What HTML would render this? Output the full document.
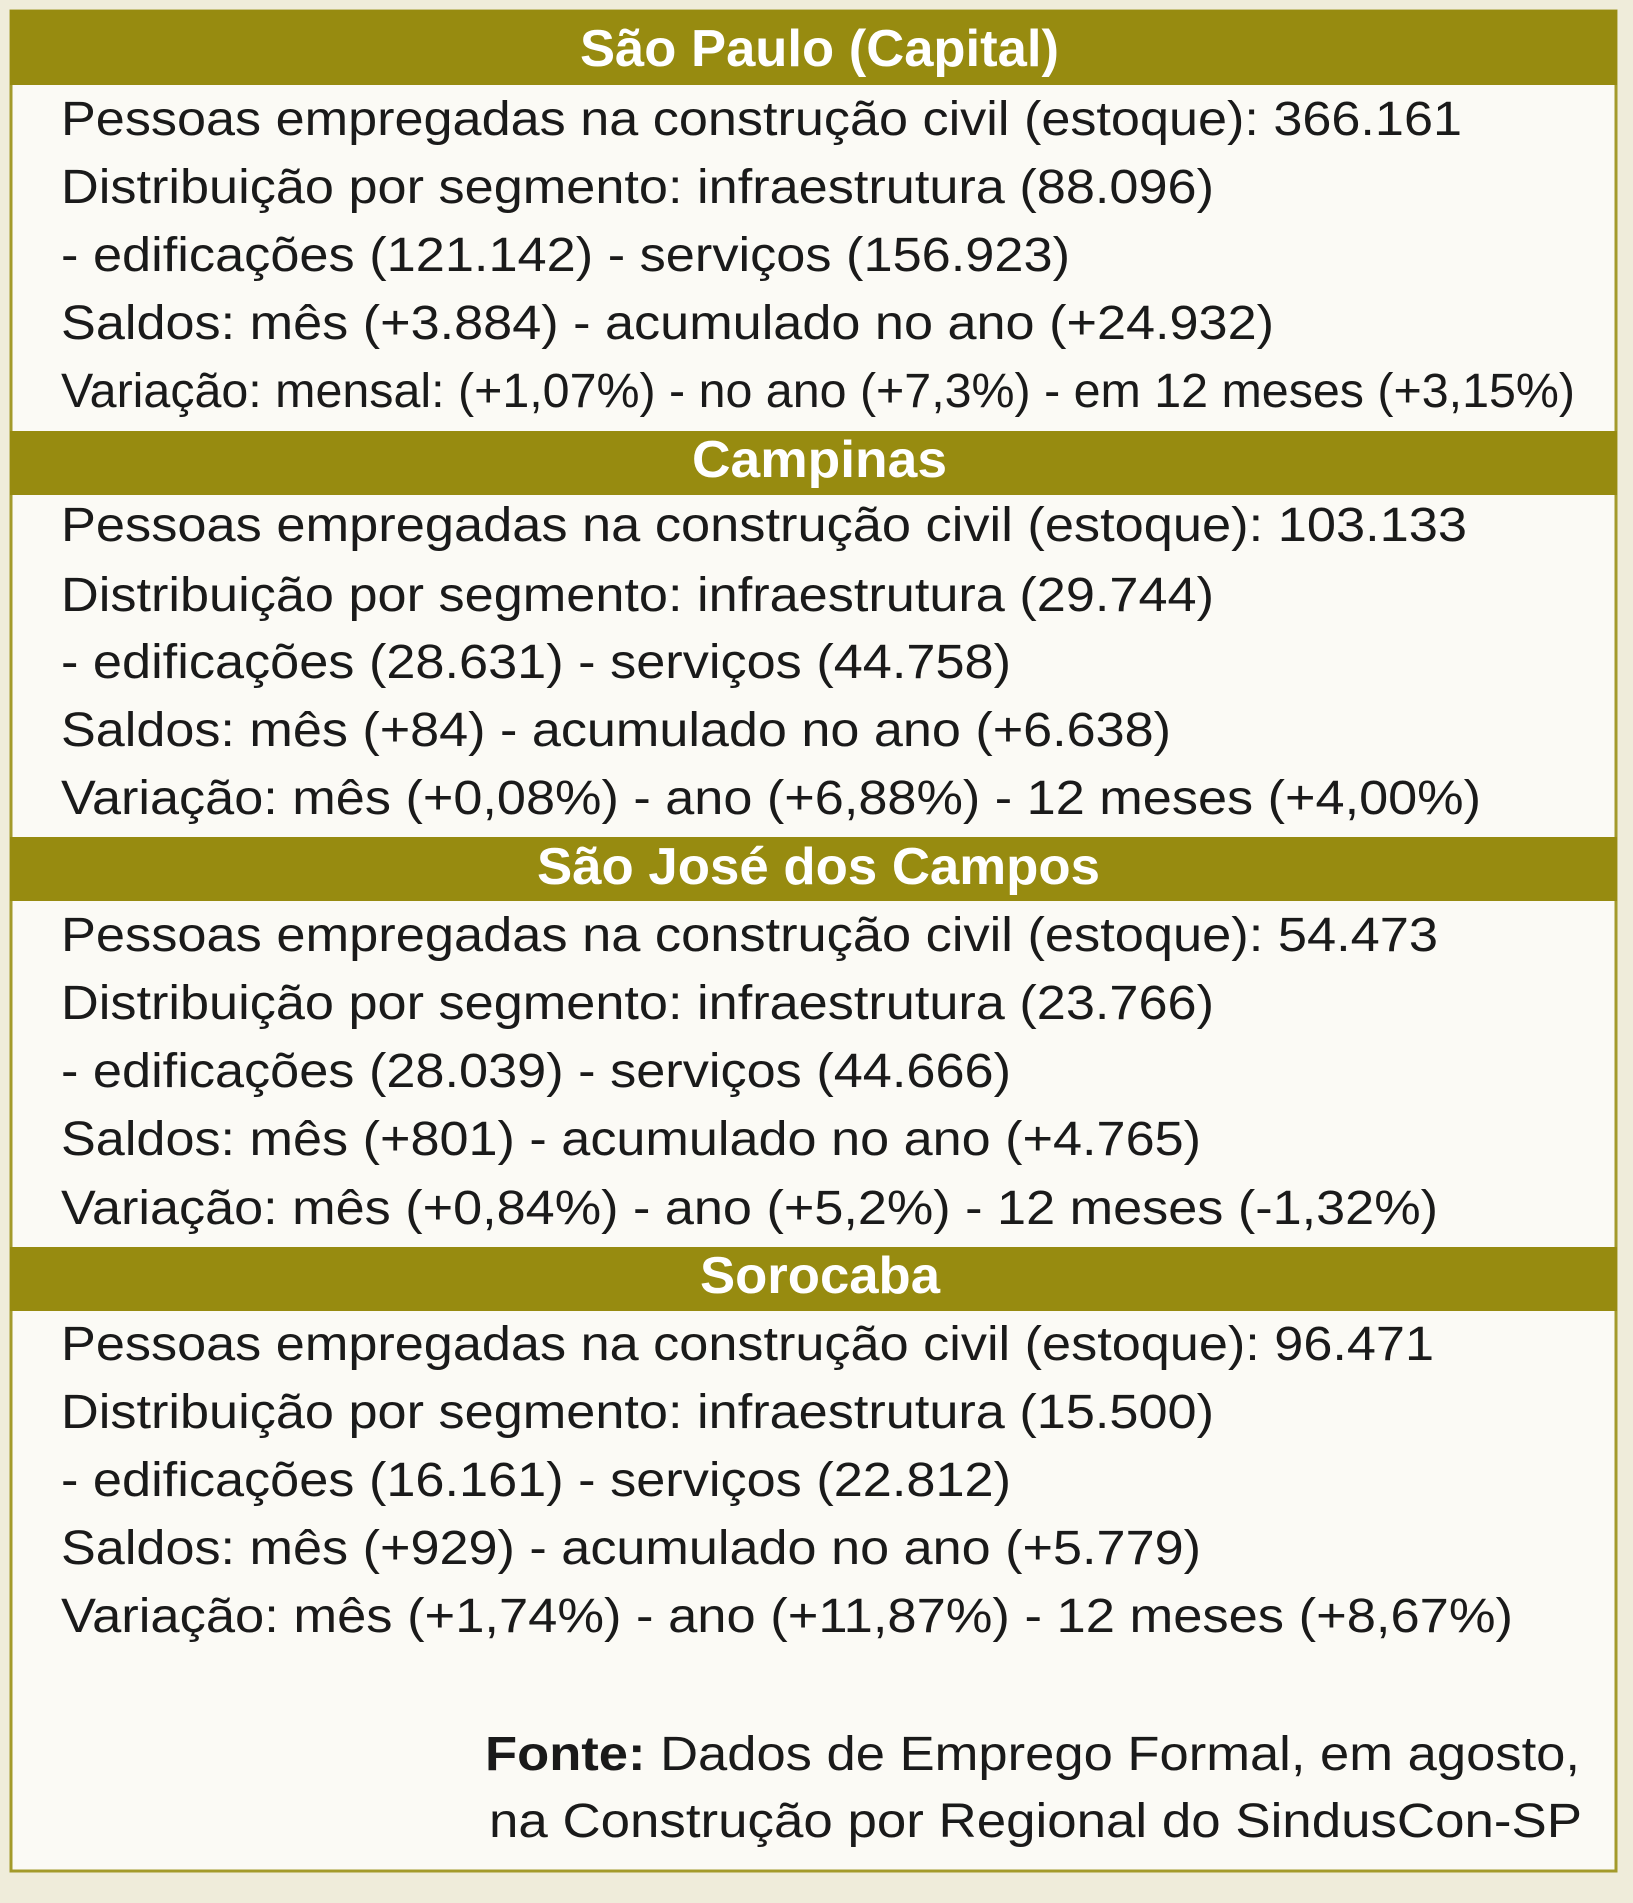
<!DOCTYPE html>
<html><head><meta charset="utf-8"><style>
html,body{margin:0;padding:0;background:#efecda;}
svg{display:block}
text{font-family:"Liberation Sans",Arial,sans-serif;}
.t{font-size:48px;fill:#1a1a1a;}
.h{font-size:52px;font-weight:bold;fill:#fff;}
</style></head><body>
<svg width="1633" height="1903" xmlns="http://www.w3.org/2000/svg">
<rect x="0" y="0" width="1633" height="1903" fill="#efecda"/>
<rect x="11" y="11" width="1605" height="1860" fill="#fbfaf5" stroke="#a39a2a" stroke-width="3"/>
<rect x="10" y="10" width="1607" height="75" fill="#978b10"/>
<rect x="10" y="431" width="1607" height="64" fill="#978b10"/>
<rect x="10" y="837" width="1607" height="64" fill="#978b10"/>
<rect x="10" y="1247" width="1607" height="64" fill="#978b10"/>
<text class="h" x="580" y="66" textLength="479" lengthAdjust="spacingAndGlyphs">São Paulo (Capital)</text>
<text class="h" x="692" y="477" textLength="255" lengthAdjust="spacingAndGlyphs">Campinas</text>
<text class="h" x="537" y="884" textLength="563" lengthAdjust="spacingAndGlyphs">São José dos Campos</text>
<text class="h" x="700" y="1293" textLength="240" lengthAdjust="spacingAndGlyphs">Sorocaba</text>

<text class="t" x="61" y="135" textLength="1401" lengthAdjust="spacingAndGlyphs">Pessoas empregadas na construção civil (estoque): 366.161</text>
<text class="t" x="61" y="203" textLength="1153" lengthAdjust="spacingAndGlyphs">Distribuição por segmento: infraestrutura (88.096)</text>
<text class="t" x="61" y="271" textLength="1009" lengthAdjust="spacingAndGlyphs">- edificações (121.142) - serviços (156.923)</text>
<text class="t" x="61" y="339" textLength="1213" lengthAdjust="spacingAndGlyphs">Saldos: mês (+3.884) - acumulado no ano (+24.932)</text>
<text class="t" x="61" y="407" textLength="1514" lengthAdjust="spacingAndGlyphs">Variação: mensal: (+1,07%) - no ano (+7,3%) - em 12 meses (+3,15%)</text>

<text class="t" x="61" y="541" textLength="1406" lengthAdjust="spacingAndGlyphs">Pessoas empregadas na construção civil (estoque): 103.133</text>
<text class="t" x="61" y="611" textLength="1153" lengthAdjust="spacingAndGlyphs">Distribuição por segmento: infraestrutura (29.744)</text>
<text class="t" x="61" y="678" textLength="950" lengthAdjust="spacingAndGlyphs">- edificações (28.631) - serviços (44.758)</text>
<text class="t" x="61" y="746" textLength="1110" lengthAdjust="spacingAndGlyphs">Saldos: mês (+84) - acumulado no ano (+6.638)</text>
<text class="t" x="61" y="814" textLength="1420" lengthAdjust="spacingAndGlyphs">Variação: mês (+0,08%) - ano (+6,88%) - 12 meses (+4,00%)</text>

<text class="t" x="61" y="951" textLength="1377" lengthAdjust="spacingAndGlyphs">Pessoas empregadas na construção civil (estoque): 54.473</text>
<text class="t" x="61" y="1019" textLength="1153" lengthAdjust="spacingAndGlyphs">Distribuição por segmento: infraestrutura (23.766)</text>
<text class="t" x="61" y="1087" textLength="950" lengthAdjust="spacingAndGlyphs">- edificações (28.039) - serviços (44.666)</text>
<text class="t" x="61" y="1155" textLength="1140" lengthAdjust="spacingAndGlyphs">Saldos: mês (+801) - acumulado no ano (+4.765)</text>
<text class="t" x="61" y="1224" textLength="1377" lengthAdjust="spacingAndGlyphs">Variação: mês (+0,84%) - ano (+5,2%) - 12 meses (-1,32%)</text>

<text class="t" x="61" y="1360" textLength="1373" lengthAdjust="spacingAndGlyphs">Pessoas empregadas na construção civil (estoque): 96.471</text>
<text class="t" x="61" y="1428" textLength="1153" lengthAdjust="spacingAndGlyphs">Distribuição por segmento: infraestrutura (15.500)</text>
<text class="t" x="61" y="1496" textLength="950" lengthAdjust="spacingAndGlyphs">- edificações (16.161) - serviços (22.812)</text>
<text class="t" x="61" y="1564" textLength="1140" lengthAdjust="spacingAndGlyphs">Saldos: mês (+929) - acumulado no ano (+5.779)</text>
<text class="t" x="61" y="1632" textLength="1452" lengthAdjust="spacingAndGlyphs">Variação: mês (+1,74%) - ano (+11,87%) - 12 meses (+8,67%)</text>

<text class="t" x="485" y="1770" textLength="1095" lengthAdjust="spacingAndGlyphs"><tspan font-weight="bold">Fonte:</tspan> Dados de Emprego Formal, em agosto,</text>
<text class="t" x="489" y="1837" textLength="1093" lengthAdjust="spacingAndGlyphs">na Construção por Regional do SindusCon-SP</text>
</svg>
</body></html>
